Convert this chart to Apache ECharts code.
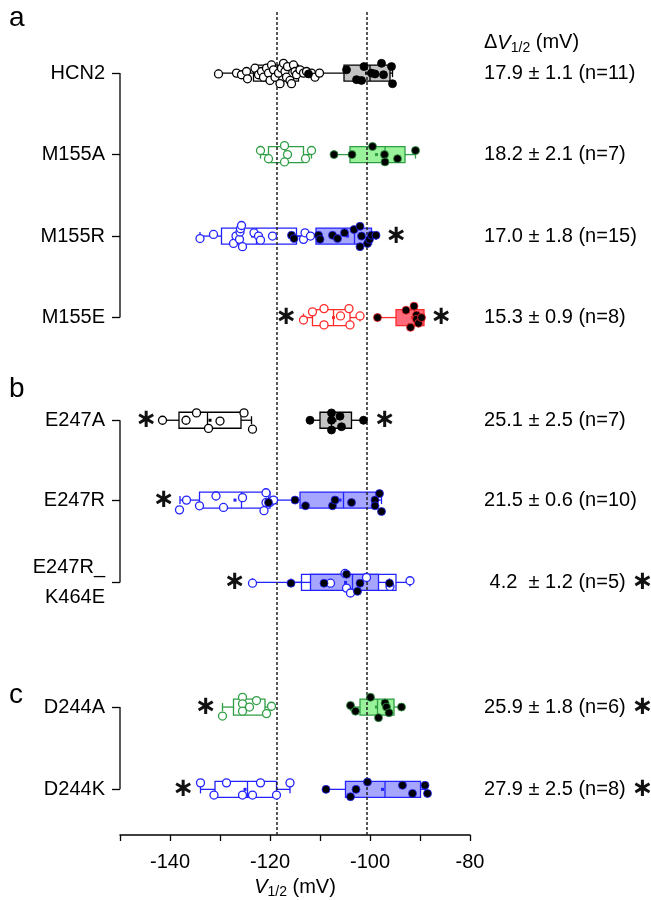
<!DOCTYPE html>
<html>
<head>
<meta charset="utf-8">
<script src="https://cdn.jsdelivr.net/npm/echarts@6/dist/echarts.min.js"></script>
<style>
  html, body { margin: 0; padding: 0; background: #fff; }
  #chart { width: 651px; height: 900px; }
</style>
</head>
<body>
<div id="chart"></div>
<script>
// rows, top to bottom
const rowNames = ['HCN2', 'M155A', 'M155R', 'M155E', 'E247A', 'E247R', 'E247R_\nK464E', 'D244A', 'D244K'];
const rowPos = [0, 1, 2, 3, 4.26, 5.24, 6.25, 7.78, 8.79];
const rowColor = ['k', 'g', 'b', 'r', 'k', 'b', 'b', 'g', 'b'];
const groups = [[0, 3], [4, 6], [7, 8]];

// box stats: [min, q1, median, q3, max, mean] (mV)
const openBox = [
  [-130.3, -123.3, -118.5, -114.3, -110.1, -118.7],
  [-121.9, -120.3, -117.0, -113.3, -111.7, -116.8],
  [-134.0, -129.7, -122.7, -114.7, -111.9, -123.5],
  [-113.3, -111.5, -107.3, -104.0, -102.0, -107.3],
  [-141.5, -138.2, -132.5, -125.8, -123.7, -132.0],
  [-138.0, -134.1, -125.7, -120.0, -119.3, -127.0],
  [-123.5, -113.7, -103.3, -94.8, -92.0, -104.5],
  [-129.5, -127.3, -125.5, -121.0, -119.7, -124.5],
  [-133.9, -131.0, -124.5, -118.7, -116.0, -125.0]
];
const filledBox = [
  [-112.3, -105.2, -100.0, -96.0, -95.5, -100.7],
  [-107.2, -104.0, -97.0, -93.0, -90.9, -98.7],
  [-115.7, -110.8, -103.1, -99.7, -98.8, -104.5],
  [-98.5, -94.8, -91.0, -89.2, -89.2, -91.5],
  [-112.0, -110.0, -107.7, -103.7, -101.3, -107.0],
  [-120.3, -114.0, -105.3, -98.7, -97.7, -106.0],
  [-115.8, -111.9, -103.5, -98.3, -96.1, -104.9],
  [-103.9, -102.0, -98.5, -95.2, -93.7, -98.7],
  [-108.8, -104.9, -97.0, -89.9, -88.7, -97.5]
];

// individual cells (mV) and their vertical jitter (row units)
const openVals = [
  [-130.3,-126.7,-125.7,-124.7,-124.5,-123,-122.3,-121.7,-121.3,-120.7,-120.3,-120,-119.7,-119.3,-119,-118.3,-118,-117.7,-117.3,-117,-116.7,-116.5,-116,-115.7,-115.3,-115,-114.7,-114,-113.3,-112.7,-111.7,-111,-110.1],
  [-121.9,-120.3,-117.1,-116.5,-117.1,-112.9,-111.7],
  [-134,-131.3,-127.3,-126.8,-126.1,-126,-125.9,-125.7,-125.5,-123.2,-122.3,-121.9,-119.5,-113.3,-113,-111.9],
  [-113.3,-111.5,-109.2,-109.2,-105.9,-104.2,-104,-102],
  [-141.5,-136.8,-134.7,-132.3,-130,-125.2,-123.5],
  [-138.1,-136.7,-134.1,-130.8,-129.3,-125.5,-121.2,-120.8,-120.8,-120,-119.3],
  [-123.5,-107.9,-105,-104.7,-103.9,-100.7,-96,-92],
  [-129.5,-125.5,-125.5,-125.5,-124.1,-122.7,-120.7,-119.7],
  [-133.9,-131.2,-128.7,-125.5,-123.5,-121.9,-118.7,-116]
];
const openJit = [
  [.01,0,.02,-.02,.07,-.06,.02,-.02,.05,-.06,0,.09,-.1,-.04,.05,0,.13,-.06,-.12,-.02,.05,-.08,.09,.13,-.1,-.02,.02,-.04,0,-.02,0,.05,0],
  [-.05,.05,-.11,0,.09,.05,-.05],
  [.03,-.02,.09,0,.04,-.05,-.09,-.13,.13,-.04,0,.05,0,.04,-.04,0],
  [.03,-.07,-.11,.09,-.02,-.11,.09,-.02],
  [0,0,-.09,.1,.01,-.09,.11],
  [.12,0,.07,-.05,.09,-.03,.13,-.09,.03,.03,0],
  [.01,.01,-.11,.07,.13,-.06,.05,-.02],
  [.11,-.12,-.04,.05,0,-.08,.08,-.01],
  [-.08,.07,-.08,.07,.07,-.08,.07,-.08]
];
const filledVals = [
  [-112.3,-104.7,-102.7,-101.7,-101.2,-99.7,-99,-97.7,-97.3,-95.7,-95.5],
  [-107.2,-103.6,-99.5,-97.1,-97,-94.5,-90.9],
  [-115.7,-115.2,-110.3,-110,-107.5,-106.5,-105.1,-103.2,-102,-101.7,-102,-100.5,-100.1,-99.7,-98.8],
  [-98.5,-92.8,-91.2,-90.7,-90.7,-90.3,-89.7,-91.9],
  [-112,-107.7,-107.7,-107.7,-106,-105.7,-101.3],
  [-120.3,-115,-112.9,-107.5,-107,-103.7,-99,-99,-98.1,-97.7],
  [-115.8,-109.2,-104.7,-102.5,-102,-96.1],
  [-103.9,-102.9,-99.9,-98.3,-97,-96.7,-96.2,-93.7],
  [-108.8,-103.9,-102.8,-100.5,-93.5,-91.5,-89,-88.5]
];
const filledJit = [
  [.01,-.04,.08,.09,-.08,0,.01,-.12,.02,-.08,.13],
  [0,0,-.1,0,.09,.05,-.05],
  [-.01,.03,-.01,.04,-.01,.03,-.04,-.08,-.12,0,.13,.09,.04,-.01,-.01],
  [0,-.09,-.14,-.03,.02,.07,0,.12],
  [0,-.09,0,.12,-.05,.08,0],
  [.03,0,.07,.07,0,.03,0,.07,-.08,.14],
  [.01,.01,-.1,.11,.01,.01],
  [-.02,.05,-.12,.13,-.05,0,.07,0],
  [0,.09,0,-.09,-.05,.05,-.05,.05]
];

// significance stars inside the plot: [mV, row index]
const plotStars = [[-94.7, 2], [-116.7, 3], [-85.7, 3], [-144.7, 4], [-97, 4], [-141.2, 5], [-127, 6], [-132.8, 7], [-137.3, 8]];

// ΔV1/2 column
const deltaMean = ['17.9', '18.2', '17.0', '15.3', '25.1', '21.5', '4.2', '25.9', '27.9'];
const deltaSem = ['1.1', '2.1', '1.8', '0.9', '2.5', '0.6', '1.2', '1.8', '2.5'];
const deltaN = [11, 7, 15, 8, 7, 10, 5, 6, 8];
const deltaSig = [0, 0, 0, 0, 0, 0, 1, 1, 1];

// reference lines (HCN2 means)
const refLines = [-118.7, -100.7];
const xTicks = [-150, -80, 10];

const palette = {
  k: { line: '#000000', fill: '#c4c4c4' },
  g: { line: '#2f9e44', fill: '#9af29a' },
  b: { line: '#2323ff', fill: '#a6a6ff' },
  r: { line: '#ff2b2b', fill: '#ff6b7b' }
};
const FONT = '"Liberation Sans", Arial, sans-serif';
const HEADER_POS = -0.37;

const chart = echarts.init(document.getElementById('chart'));

function boxData(stats, filled) {
  return stats.map(function (s, i) {
    return [rowPos[i], s[0], s[1], s[2], s[3], s[4], s[5], i, filled];
  });
}

function renderBox(params, api) {
  const row = api.value(0);
  const c = palette[rowColor[api.value(7)]];
  const filled = api.value(8);
  const p = [1, 2, 3, 4, 5, 6].map(function (k) { return api.coord([api.value(k), row]); });
  const y = p[0][1];
  const h = 8, cap = 4;
  const ls = { stroke: c.line, lineWidth: 1.3 };
  return {
    type: 'group',
    children: [
      { type: 'line', shape: { x1: p[0][0], y1: y, x2: p[1][0], y2: y }, style: ls },
      { type: 'line', shape: { x1: p[3][0], y1: y, x2: p[4][0], y2: y }, style: ls },
      { type: 'line', shape: { x1: p[0][0], y1: y - cap, x2: p[0][0], y2: y + cap }, style: ls },
      { type: 'line', shape: { x1: p[4][0], y1: y - cap, x2: p[4][0], y2: y + cap }, style: ls },
      { type: 'rect', shape: { x: p[1][0], y: y - h, width: p[3][0] - p[1][0], height: 2 * h },
        style: { fill: filled ? c.fill : 'none', stroke: c.line, lineWidth: 1.3 } },
      { type: 'line', shape: { x1: p[2][0], y1: y - h, x2: p[2][0], y2: y + h }, style: ls },
      { type: 'rect', shape: { x: p[5][0] - 1.5, y: y - 1.5, width: 3, height: 3 }, style: { fill: c.line } }
    ]
  };
}

function pointData(vals, jit, filled) {
  const out = [];
  vals.forEach(function (row, i) {
    const c = palette[rowColor[i]];
    row.forEach(function (v, j) {
      out.push({
        value: [v, rowPos[i] + jit[i][j]],
        itemStyle: filled
          ? { color: '#000', borderColor: c.line, borderWidth: 0.8, opacity: 1 }
          : { color: '#fff', borderColor: c.line, borderWidth: 1.3, opacity: 1 }
      });
    });
  });
  return out;
}

function findRow(v) {
  for (let i = 0; i < rowPos.length; i++) {
    if (Math.abs(rowPos[i] - v) < 1e-6) return i;
  }
  return -1;
}

const option = {
  animation: false,
  textStyle: { fontFamily: FONT },
  grid: { left: 120, right: 181, top: 12, bottom: 65, outerBoundsMode: 'none', containLabel: false },
  graphic: [
    { type: 'text', left: 9, top: 4, style: { text: 'a', fontSize: 28, fontFamily: FONT, fill: '#000' } },
    { type: 'text', left: 9, top: 375, style: { text: 'b', fontSize: 28, fontFamily: FONT, fill: '#000' } },
    { type: 'text', left: 9, top: 681, style: { text: 'c', fontSize: 28, fontFamily: FONT, fill: '#000' } }
  ],
  xAxis: {
    type: 'value',
    min: xTicks[0],
    max: xTicks[1],
    interval: xTicks[2],
    splitLine: { show: false },
    axisLine: { show: true, onZero: false, lineStyle: { color: '#000', width: 1.5 } },
    axisTick: { show: true, length: 6, lineStyle: { color: '#000', width: 1.3 } },
    axisLabel: {
      color: '#000', fontSize: 20, margin: 17, fontFamily: FONT,
      formatter: function (v) { return v % 20 === 0 ? String(v) : ''; }
    },
    name: '{i|V}{s|1/2}{n| (mV)}',
    nameLocation: 'middle',
    nameGap: 40,
    nameTextStyle: {
      rich: {
        i: { fontSize: 20, fontStyle: 'italic', fontFamily: FONT, color: '#000' },
        s: { fontSize: 14, fontFamily: FONT, color: '#000', padding: [10, 0, 0, 0] },
        n: { fontSize: 20, fontFamily: FONT, color: '#000' }
      }
    }
  },
  yAxis: [
    {
      type: 'value',
      inverse: true,
      min: -0.75,
      max: 9.35,
      splitLine: { show: false },
      axisLine: { show: false },
      axisTick: { show: true, customValues: rowPos, length: 8, lineStyle: { color: '#000', width: 1.3 } },
      axisLabel: {
        customValues: rowPos,
        margin: 15,
        color: '#000',
        fontSize: 20,
        lineHeight: 30,
        fontFamily: FONT,
        align: 'right',
        formatter: function (v) { const i = findRow(v); return i >= 0 ? rowNames[i] : ''; }
      }
    },
    {
      type: 'value',
      position: 'right',
      inverse: true,
      min: -0.75,
      max: 9.35,
      splitLine: { show: false },
      axisLine: { show: false },
      axisTick: { show: false },
      axisLabel: {
        customValues: [HEADER_POS].concat(rowPos),
        margin: 14,
        color: '#000',
        fontFamily: FONT,
        align: 'left',
        formatter: function (v) {
          if (Math.abs(v - HEADER_POS) < 1e-6) return '{d|\u0394}{v|V}{s|1/2}{u| (mV)}';
          const i = findRow(v);
          if (i < 0) return '';
          let t = '{m|' + deltaMean[i] + '}{t| \u00b1 ' + deltaSem[i] + ' (n=' + deltaN[i] + ')}';
          if (deltaSig[i]) t += '{st|\u2217}';
          return t;
        },
        rich: {
          d: { fontSize: 20, fontFamily: FONT, color: '#000' },
          v: { fontSize: 20, fontStyle: 'italic', fontFamily: FONT, color: '#000' },
          s: { fontSize: 14, fontFamily: FONT, color: '#000', padding: [10, 0, 0, 0] },
          u: { fontSize: 20, fontFamily: FONT, color: '#000' },
          m: { fontSize: 20, fontFamily: FONT, color: '#000', width: 39, align: 'right' },
          t: { fontSize: 20, fontFamily: FONT, color: '#000' },
          st: { fontSize: 26, fontFamily: '"DejaVu Sans"', fontWeight: 'bold', color: '#111', padding: [0, 0, 0, 6] }
        }
      }
    }
  ],
  series: [
    {
      // reference lines at the HCN2 means
      type: 'line',
      data: [],
      markLine: {
        silent: true,
        symbol: 'none',
        label: { show: false },
        lineStyle: { color: '#222', type: [3, 2], width: 1.5 },
        data: refLines.map(function (x) { return { xAxis: x }; })
      }
    }
  ].concat(groups.map(function (g) {
    // group brackets
    return {
      type: 'line',
      clip: false,
      symbol: 'none',
      silent: true,
      lineStyle: { color: '#000', width: 1.3 },
      data: [[xTicks[0], rowPos[g[0]]], [xTicks[0], rowPos[g[1]]]]
    };
  })).concat([
    {
      type: 'custom',
      renderItem: renderBox,
      encode: { x: [1, 2, 3, 4, 5, 6], y: 0 },
      data: boxData(openBox, 0),
      z: 3
    },
    {
      type: 'custom',
      renderItem: renderBox,
      encode: { x: [1, 2, 3, 4, 5, 6], y: 0 },
      data: boxData(filledBox, 1),
      z: 4
    },
    {
      type: 'scatter',
      symbol: 'circle',
      symbolSize: 8,
      data: pointData(openVals, openJit, 0),
      z: 5
    },
    {
      type: 'scatter',
      symbol: 'circle',
      symbolSize: 8,
      data: pointData(filledVals, filledJit, 1),
      z: 6
    },
    {
      type: 'scatter',
      symbol: 'circle',
      symbolSize: 1,
      itemStyle: { color: 'rgba(0,0,0,0)', opacity: 1 },
      label: {
        show: true,
        position: 'inside',
        formatter: '\u2217',
        fontSize: 26,
        fontWeight: 'bold',
        fontFamily: '"DejaVu Sans"',
        color: '#111',
        opacity: 1
      },
      data: plotStars.map(function (s) { return [s[0], rowPos[s[1]]]; }),
      z: 7
    }
  ])
};

chart.setOption(option);
</script>
</body>
</html>
